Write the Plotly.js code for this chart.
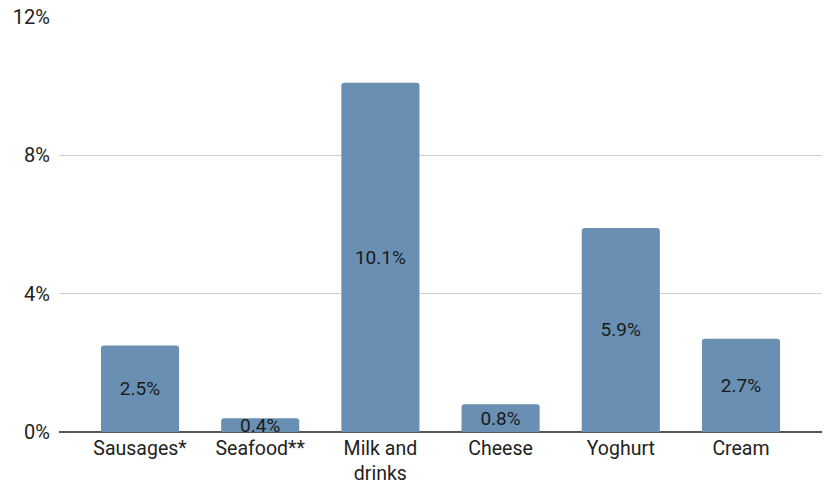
<!DOCTYPE html>
<html>
<head>
<meta charset="utf-8">
<script src="https://cdn.plot.ly/plotly-3.0.1.min.js"></script>
<style>html,body{margin:0;padding:0;background:#fff;}#chart{width:825px;height:485px;}</style>
</head>
<body>
<div id="chart"></div>
<script>
const categories = ["Sausages*", "Seafood**", "Milk and<br>drinks", "Cheese", "Yoghurt", "Cream"];
const values = [2.5, 0.4, 10.1, 0.8, 5.9, 2.7];
const labels = ["2.5%", "0.4%", "10.1%", "0.8%", "5.9%", "2.7%"];
const yTicks = [0, 4, 8, 12];
const yTickLabels = ["0%", "4%", "8%", "12%"];

const FONT = "Roboto, 'Noto Sans', sans-serif";

Plotly.newPlot("chart", [{
  type: "bar",
  x: categories.map((c, i) => i),
  y: values,
  text: labels,
  textposition: "inside",
  insidetextanchor: "middle",
  constraintext: "none",
  cliponaxis: false,
  textfont: {family: FONT, size: 19, color: "#1a1a1a"},
  marker: {color: "#6990b2", line: {width: 0}},
  width: 0.65,
  hoverinfo: "none"
}], {
  width: 825, height: 485,
  margin: {l: 59, r: 3, t: 17, b: 53},
  paper_bgcolor: "#fff", plot_bgcolor: "#fff",
  barcornerradius: 3,
  showlegend: false,
  font: {family: FONT, size: 20, color: "#222"},
  xaxis: {
    range: [-0.674, 5.674],
    tickvals: categories.map((c, i) => i),
    ticktext: categories,
    showgrid: false, zeroline: false,
    showline: false, ticks: "",
    ticklabelstandoff: 2,
    tickfont: {family: FONT, size: 19.5, color: "#222"}
  },
  yaxis: {
    range: [0, 12],
    tickvals: yTicks,
    ticktext: yTickLabels,
    showgrid: true, gridcolor: "#cfcfcf", gridwidth: 1,
    zeroline: true, zerolinecolor: "#555", zerolinewidth: 1.5,
    showline: false, ticks: "",
    ticklabelstandoff: 8,
    tickfont: {family: FONT, size: 20, color: "#222"}
  }
}, {staticPlot: true});
</script>
</body>
</html>
